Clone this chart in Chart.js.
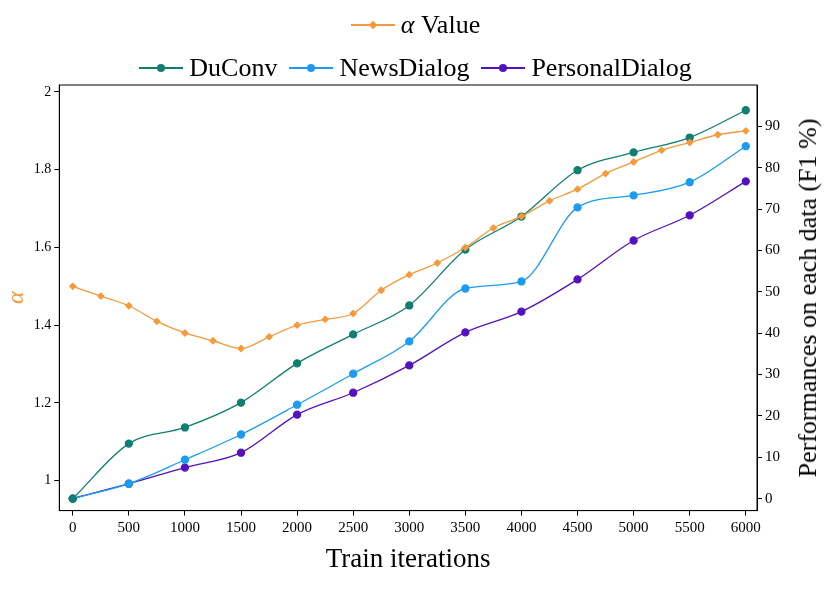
<!DOCTYPE html>
<html><head><meta charset="utf-8">
<script src="https://cdn.jsdelivr.net/npm/chart.js@4/dist/chart.umd.min.js"></script>
<style>
body{margin:0;background:#fff;font-family:"Liberation Serif",serif;}
#wrap{position:relative;width:831px;height:591px;}
#legend{position:absolute;left:0;top:0px;width:831px;text-align:center;font-size:26px;line-height:36px;color:#000;}
.it{display:inline-flex;align-items:center;margin:0 6px;}
.sw{display:inline-block;position:relative;width:44px;height:2px;margin-right:6px;}
.mk{position:absolute;left:18px;top:-3px;width:8px;height:8px;border-radius:50%;}
#rt{position:absolute;left:808px;top:298px;font-size:26px;white-space:nowrap;transform:translate(-50%,-50%) rotate(-90deg);color:#000;}
</style></head><body>
<div id="wrap">
<canvas id="c" width="831" height="591"></canvas>
<div id="legend">
<div><span class="it"><span class="sw" style="background:#f59a3c"><span class="mk" style="background:#f59a3c;border-radius:0;transform:rotate(45deg);width:6px;height:6px;left:19px;top:-2px"></span></span><i>α</i>&nbsp;Value</span></div>
<div><span class="it"><span class="sw" style="background:#0e7f70"><span class="mk" style="background:#0e7f70"></span></span>DuConv</span><span class="it"><span class="sw" style="background:#1b9cf2"><span class="mk" style="background:#1b9cf2"></span></span>NewsDialog</span><span class="it"><span class="sw" style="background:#5412bf"><span class="mk" style="background:#5412bf"></span></span>PersonalDialog</span></div>
</div>
<div id="rt">Performances on each data (F1 %)</div>
</div>
<script>
const alphaX=[0,250,500,750,1000,1250,1500,1750,2000,2250,2500,2750,3000,3250,3500,3750,4000,4250,4500,4750,5000,5250,5500,5750,6000];
const alphaV=[1.5,1.475,1.45,1.41,1.38,1.36,1.34,1.37,1.40,1.415,1.43,1.49,1.53,1.56,1.60,1.65,1.68,1.72,1.75,1.79,1.82,1.85,1.87,1.89,1.90];
const iterX=[0,500,1000,1500,2000,2500,3000,3500,4000,4500,5000,5500,6000];
const duconv=[0,13.3,17.2,23.2,32.7,39.7,46.7,60.2,68.2,79.4,83.7,87.3,93.9];
const news=[0,3.6,9.4,15.5,22.7,30.2,38,50.8,52.5,70.4,73.3,76.5,85.2];
const personal=[0,3.6,7.5,11.1,20.3,25.6,32.2,40.2,45.2,53,62.4,68.5,76.7];
const xTicks=[0,500,1000,1500,2000,2500,3000,3500,4000,4500,5000,5500,6000];
const yTicks=[1,1.2,1.4,1.6,1.8,2];
const y2Ticks=[0,10,20,30,40,50,60,70,80,90];
const pts=(xs,ys)=>xs.map((x,i)=>({x:x,y:ys[i]}));
const F="'Liberation Serif', serif";
const frame={id:'frame',afterDraw(c){const a=c.chartArea,g=c.ctx;g.save();g.strokeStyle='#000';g.lineWidth=1;g.strokeRect(a.left,a.top,a.right-a.left,a.bottom-a.top);g.restore();}};
function ds(label,data,color,axis,style,r){return{label,data,borderColor:color,backgroundColor:color,yAxisID:axis,pointStyle:style,pointRadius:r,borderWidth:1.3,cubicInterpolationMode:'monotone',tension:0.4};}
const gridOpt={drawOnChartArea:false,tickLength:5,color:'#000'};
new Chart(document.getElementById('c'),{type:'line',
data:{datasets:[ds('α Value',pts(alphaX,alphaV),'#f59a3c','y','rectRot',3),ds('DuConv',pts(iterX,duconv),'#0e7f70','y2','circle',3.5),ds('NewsDialog',pts(iterX,news),'#1b9cf2','y2','circle',3.5),ds('PersonalDialog',pts(iterX,personal),'#5412bf','y2','circle',3.5)]},
options:{responsive:false,animation:false,layout:{padding:{top:85,left:2,right:48,bottom:11}},
plugins:{legend:{display:false},tooltip:{enabled:false}},
scales:{
x:{type:'linear',min:-120,max:6100,afterBuildTicks:a=>{a.ticks=xTicks.map(v=>({value:v}));},grid:gridOpt,border:{color:'#000'},ticks:{color:'#000',font:{family:F,size:15},maxRotation:0,callback:v=>String(v)},title:{display:true,text:'Train iterations',color:'#000',font:{family:F,size:27}}},
y:{type:'linear',position:'left',min:0.923,max:2.018,afterBuildTicks:a=>{a.ticks=yTicks.map(v=>({value:v}));},grid:gridOpt,border:{color:'#000'},ticks:{color:'#000',font:{family:F,size:14},callback:v=>String(+v.toFixed(1))},title:{display:true,text:'α',color:'#f59a3c',font:{family:F,size:24,style:'italic'},padding:0}},
y2:{type:'linear',position:'right',min:-2.9,max:100,afterBuildTicks:a=>{a.ticks=y2Ticks.map(v=>({value:v}));},grid:gridOpt,border:{color:'#000'},ticks:{color:'#000',font:{family:F,size:15}}}
}},plugins:[frame]});
</script></body></html>
